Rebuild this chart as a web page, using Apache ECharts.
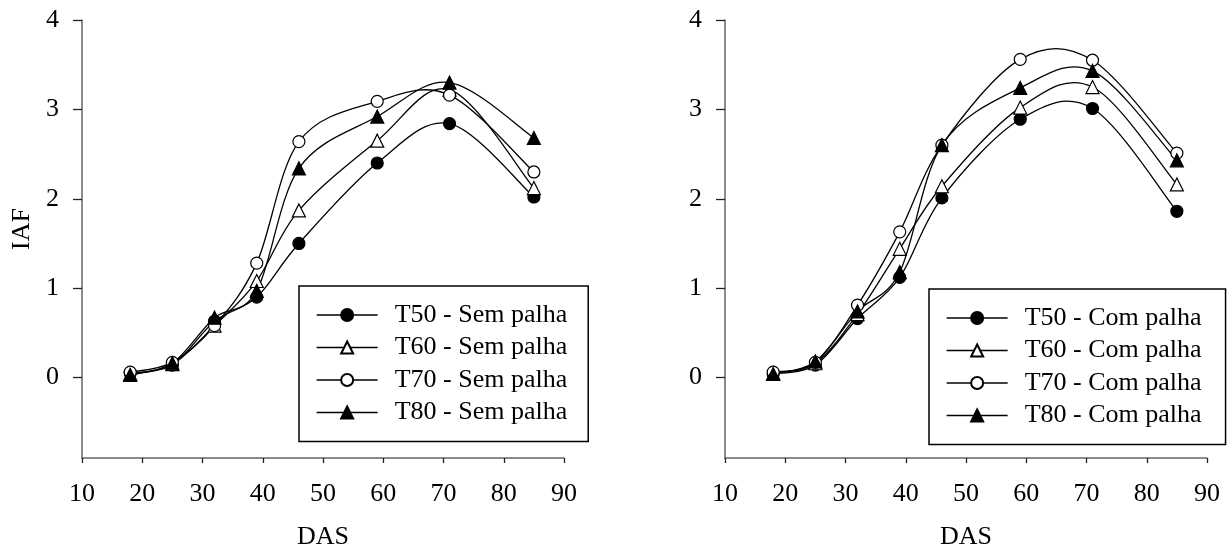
<!DOCTYPE html>
<html>
<head>
<meta charset="utf-8">
<title>IAF x DAS</title>
<script src="https://cdn.jsdelivr.net/npm/echarts@6/dist/echarts.min.js"></script>
<style>
  html, body { margin: 0; padding: 0; background: #fff; }
  #chart { width: 1230px; height: 548px; }
</style>
</head>
<body>
<div id="chart"></div>
<script>
// Dias após a semeadura (DAS)
const das = [18, 25, 32, 39, 46, 59, 71, 85];

// Índice de área foliar (IAF) - sem palha
const semT50 = [0.05, 0.14, 0.63, 0.90, 1.50, 2.40, 2.84, 2.02];
const semT60 = [0.04, 0.15, 0.58, 1.08, 1.87, 2.65, 3.22, 2.12];
const semT70 = [0.06, 0.17, 0.58, 1.28, 2.64, 3.09, 3.16, 2.30];
const semT80 = [0.03, 0.16, 0.67, 0.97, 2.34, 2.92, 3.30, 2.68];

// Índice de área foliar (IAF) - com palha
const comT50 = [0.04, 0.14, 0.66, 1.12, 2.01, 2.89, 3.01, 1.86];
const comT60 = [0.05, 0.16, 0.71, 1.44, 2.14, 3.02, 3.25, 2.16];
const comT70 = [0.06, 0.17, 0.81, 1.63, 2.60, 3.56, 3.55, 2.51];
const comT80 = [0.04, 0.18, 0.74, 1.18, 2.60, 3.24, 3.43, 2.43];

const semNames = ['T50 - Sem palha', 'T60 - Sem palha', 'T70 - Sem palha', 'T80 - Sem palha'];
const comNames = ['T50 - Com palha', 'T60 - Com palha', 'T70 - Com palha', 'T80 - Com palha'];

const yTickValues = [0, 1, 2, 3, 4];

const FONT = 'Liberation Serif';
const FONT_SIZE = 26;

// marker look per treatment: T50 filled circle, T60 open triangle, T70 open circle, T80 filled triangle
const markerStyles = [
  { symbol: 'circle', size: 12, fill: '#000' },
  { symbol: 'triangle', size: 13, fill: '#fff' },
  { symbol: 'circle', size: 12, fill: '#fff' },
  { symbol: 'triangle', size: 13, fill: '#000' }
];

function pairs(values) {
  return das.map((d, i) => [d, values[i]]);
}

// Smoothed curve through the points: each item draws the cubic Bezier
// from its point to the next one, with Catmull-Rom style control points
// (tangent = (next - previous) / 6) computed in pixel space.
function curveSeries(values, axisIndex) {
  const last = das.length - 1;
  return {
    type: 'custom',
    xAxisIndex: axisIndex,
    yAxisIndex: axisIndex,
    data: pairs(values),
    silent: true,
    z: 1,
    animation: false,
    renderItem: function (params, api) {
      const i = params.dataIndex;
      if (i >= last) return null;
      const pt = k => api.coord([das[k], values[k]]);
      const p0 = pt(Math.max(i - 1, 0));
      const p1 = pt(i);
      const p2 = pt(i + 1);
      const p3 = pt(Math.min(i + 2, last));
      return {
        type: 'bezierCurve',
        shape: {
          x1: p1[0], y1: p1[1],
          x2: p2[0], y2: p2[1],
          cpx1: p1[0] + (p2[0] - p0[0]) / 6,
          cpy1: p1[1] + (p2[1] - p0[1]) / 6,
          cpx2: p2[0] - (p3[0] - p1[0]) / 6,
          cpy2: p2[1] - (p3[1] - p1[1]) / 6
        },
        style: { stroke: '#000', lineWidth: 1.3, fill: null }
      };
    }
  };
}

// Markers (and legend entry) for one treatment; the curve is drawn by curveSeries
function markerSeries(name, values, style, axisIndex) {
  return {
    type: 'line',
    name: name,
    xAxisIndex: axisIndex,
    yAxisIndex: axisIndex,
    data: pairs(values),
    symbol: style.symbol,
    symbolSize: style.size,
    showSymbol: true,
    lineStyle: { color: '#000', width: 1.3, opacity: 0 },
    itemStyle: { color: style.fill, borderColor: '#000', borderWidth: 1.2 },
    emphasis: { disabled: true },
    z: 3,
    animation: false
  };
}

function makeXAxis(gridIndex) {
  return {
    type: 'value',
    gridIndex: gridIndex,
    min: 10,
    max: 90,
    interval: 10,
    name: 'DAS',
    nameLocation: 'middle',
    nameGap: 66,
    nameTextStyle: { fontFamily: FONT, fontSize: FONT_SIZE, color: '#000' },
    axisLine: { show: true, onZero: false, lineStyle: { color: '#666', width: 1.5 } },
    axisTick: { show: true, length: 5, lineStyle: { color: '#222', width: 1.3 } },
    axisLabel: { fontFamily: FONT, fontSize: FONT_SIZE, color: '#000', margin: 23 },
    splitLine: { show: false }
  };
}

function makeYAxis(gridIndex, withName) {
  const axis = {
    type: 'value',
    gridIndex: gridIndex,
    min: -0.9,
    max: 4,
    axisLine: { show: true, onZero: false, lineStyle: { color: '#666', width: 1.5 } },
    axisTick: { show: true, length: 9, customValues: yTickValues, lineStyle: { color: '#222', width: 1.3 } },
    axisLabel: { fontFamily: FONT, fontSize: FONT_SIZE, color: '#000', margin: 23, customValues: yTickValues },
    splitLine: { show: false }
  };
  if (withName) {
    axis.name = 'IAF';
    axis.nameLocation = 'middle';
    axis.nameGap = 47;
    axis.nameTextStyle = { fontFamily: FONT, fontSize: FONT_SIZE, color: '#000', padding: [0, 0, 0, 20] };
  }
  return axis;
}

function makeLegend(names, left, top, rightPad) {
  return {
    data: names,
    orient: 'vertical',
    left: left,
    top: top,
    padding: [16, rightPad, 16, 17],
    itemGap: 6.5,
    itemWidth: 61,
    itemHeight: 15,
    borderColor: '#000',
    borderWidth: 1.5,
    backgroundColor: '#fff',
    selectedMode: false,
    lineStyle: { color: '#000', width: 1.3, opacity: 1 },
    textStyle: { fontFamily: FONT, fontSize: FONT_SIZE, color: '#000', padding: [0, 0, 0, 12] }
  };
}

const chart = echarts.init(document.getElementById('chart'), null, { renderer: 'canvas' });

const series = [];
[semT50, semT60, semT70, semT80].forEach((v, i) => {
  series.push(curveSeries(v, 0));
  series.push(markerSeries(semNames[i], v, markerStyles[i], 0));
});
[comT50, comT60, comT70, comT80].forEach((v, i) => {
  series.push(curveSeries(v, 1));
  series.push(markerSeries(comNames[i], v, markerStyles[i], 1));
});

chart.setOption({
  backgroundColor: '#fff',
  animation: false,
  grid: [
    { left: 82, top: 20, width: 482, height: 438, outerBoundsMode: 'none' },
    { left: 725, top: 20, width: 482, height: 438, outerBoundsMode: 'none' }
  ],
  xAxis: [makeXAxis(0), makeXAxis(1)],
  yAxis: [makeYAxis(0, true), makeYAxis(1, false)],
  legend: [
    makeLegend(semNames, 299, 286, 21),
    makeLegend(comNames, 929, 289, 24)
  ],
  series: series
});
</script>
</body>
</html>
